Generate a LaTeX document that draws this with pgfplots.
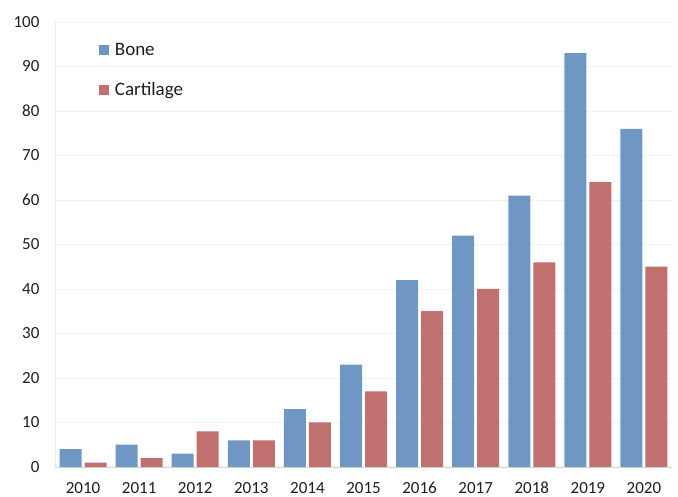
\documentclass[border=0pt]{standalone}
\usepackage{pgfplots}
\pgfplotsset{compat=1.18}
\usepackage{fontspec}
\setmainfont{Carlito}
\definecolor{boneblue}{RGB}{112,150,195}
\definecolor{cartred}{RGB}{192,112,110}
\definecolor{txt}{RGB}{30,30,30}
\begin{document}
\begin{tikzpicture}
\begin{axis}[
  scale only axis,
  width=617pt, height=445pt,
  ybar=3pt, bar width=22pt,
  xmin=-0.5, xmax=10.5,
  ymin=0, ymax=100,
  xtick={0,...,10},
  xticklabels={2010,2011,2012,2013,2014,2015,2016,2017,2018,2019,2020},
  ytick={0,10,...,100},
  axis x line*=bottom,
  axis y line*=left,
  x axis line style={draw=black!18, line width=0.8pt},
  y axis line style={draw=black!8, line width=0.6pt},
  major tick length=0pt,
  ymajorgrids,
  grid style={draw=black!5, line width=0.5pt},
  tick label style={font=\fontsize{17}{20}\selectfont, text=txt},
  /pgf/number format/assume math mode=true,
  xticklabel style={anchor=base, yshift=-27pt, text height=12pt, text depth=0pt},
  yticklabel style={xshift=-12pt},
  legend style={at={(0.066,0.962)}, anchor=north west, draw=none, fill=none,
    font=\fontsize{19}{22}\selectfont, text=txt, row sep=22pt},
  legend image code/.code={\fill[#1, draw=none] (0pt,-5pt) rectangle (10pt,5pt);},
  legend cell align=left,
]
\addplot[fill=boneblue, draw=none] coordinates {
(0,4) (1,5) (2,3) (3,6) (4,13) (5,23) (6,42) (7,52) (8,61) (9,93) (10,76)};
\addlegendentry{\hspace{4pt}Bone}
\addplot[fill=cartred, draw=none] coordinates {
(0,1) (1,2) (2,8) (3,6) (4,10) (5,17) (6,35) (7,40) (8,46) (9,64) (10,45)};
\addlegendentry{\hspace{4pt}Cartilage}
\end{axis}
\pgfresetboundingbox
\path (current axis.south west) ++(-55pt,-30pt) rectangle ++(678pt,497pt);
\end{tikzpicture}
\end{document}
